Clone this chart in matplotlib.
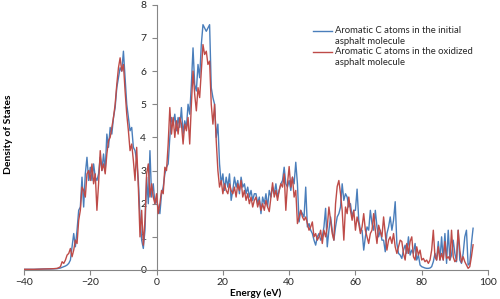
import numpy as np
import matplotlib
matplotlib.use("Agg")
from matplotlib import pyplot as plt

plt.rcParams['font.family'] = ['Lato', 'DejaVu Sans']

# energy grid: a few points for the flat tail, then 0.5 eV steps
energy = np.concatenate([[-40, -37, -34, -32, -31], np.arange(-30, 96, 0.5)])

tail_initial = [0.02, 0.02, 0.03, 0.03, 0.035]
tail_oxidized = [0.02, 0.02, 0.03, 0.035, 0.04]

# aromatic C atoms, initial asphalt molecule
dos_initial = tail_initial + [
    0.04, 0.05, 0.06, 0.08, 0.10, 0.12, 0.15, 0.20, 0.30, 0.70,   # -30
    1.10, 0.70, 1.20, 1.80, 1.90, 2.80, 1.90, 2.90, 3.40, 2.70,   # -25
    3.10, 2.70, 3.20, 2.80, 2.70, 2.90, 3.40, 3.00, 3.50, 3.00,   # -20
    4.10, 3.70, 4.30, 4.10, 4.60, 4.90, 5.50, 5.80, 6.10, 6.00,   # -15
    6.60, 5.80, 5.00, 4.60, 4.20, 4.30, 3.70, 3.60, 3.30, 2.70,   # -10
    1.60, 0.90, 0.65, 1.20, 2.80, 2.00, 3.60, 2.20, 2.60, 2.00,   # -5
    2.10, 1.90, 1.70, 2.30, 2.50, 2.90, 3.10, 3.20, 4.00, 4.60,   # 0
    4.40, 4.70, 4.20, 4.60, 4.30, 4.90, 4.10, 4.50, 4.30, 5.00,   # 5
    4.70, 5.60, 6.70, 5.60, 5.40, 6.20, 5.80, 6.80, 7.40, 7.30,   # 10
    7.20, 7.30, 7.40, 5.50, 5.20, 5.00, 4.00, 4.40, 3.20, 2.60,   # 15
    2.90, 2.40, 2.80, 2.50, 2.90, 2.10, 2.40, 2.80, 2.50, 2.70,   # 20
    2.30, 2.80, 2.50, 2.60, 2.30, 2.50, 2.20, 2.40, 2.10, 2.30,   # 25
    2.30, 2.00, 2.20, 1.70, 2.20, 2.00, 2.30, 1.90, 2.40, 2.20,   # 30
    2.50, 2.30, 2.60, 2.20, 2.40, 2.60, 2.70, 3.10, 2.60, 2.50,   # 35
    2.70, 2.40, 2.80, 2.60, 3.25, 2.60, 1.45, 1.80, 1.70, 1.60,   # 40
    2.50, 1.30, 1.40, 1.20, 1.10, 0.90, 0.75, 1.00, 1.10, 0.90,   # 45
    1.00, 1.30, 1.86, 0.70, 1.20, 1.60, 1.20, 0.90, 1.30, 1.60,   # 50
    1.70, 1.90, 2.60, 2.10, 2.30, 2.20, 1.90, 2.00, 1.60, 1.80,   # 55
    1.80, 2.44, 1.50, 1.20, 1.20, 0.60, 1.00, 1.30, 1.20, 1.80,   # 60
    1.40, 1.20, 1.80, 1.30, 1.00, 1.20, 0.90, 0.90, 0.55, 1.10,   # 65
    1.30, 1.60, 1.20, 1.50, 2.06, 0.80, 0.50, 0.45, 0.35, 0.60,   # 70
    0.75, 0.50, 1.00, 0.45, 0.60, 0.50, 0.80, 0.30, 0.45, 0.15,   # 75
    0.10, 0.08, 0.06, 0.05, 0.05, 0.06, 0.10, 0.25, 0.50, 0.30,   # 80
    0.86, 0.30, 1.00, 0.30, 1.10, 0.20, 1.20, 0.30, 0.45, 0.90,   # 85
    0.50, 0.25, 1.20, 0.30, 0.20, 0.50, 1.00, 1.20, 0.15, 0.20,   # 90
    0.80, 1.26]

# aromatic C atoms, oxidized asphalt molecule
dos_oxidized = tail_oxidized + [
    0.05, 0.07, 0.10, 0.25, 0.20, 0.30, 0.45, 0.50, 0.65, 0.40,   # -30
    0.60, 0.90, 0.80, 1.50, 1.80, 2.50, 2.40, 2.20, 2.90, 3.00,   # -25
    2.70, 3.20, 2.60, 2.90, 1.80, 2.60, 3.60, 3.00, 3.20, 2.90,   # -20
    3.50, 3.90, 4.00, 4.30, 4.60, 5.00, 5.60, 6.10, 6.40, 6.00,   # -15
    6.20, 5.40, 4.70, 4.20, 3.60, 3.80, 3.30, 2.70, 3.70, 2.50,   # -10
    1.00, 1.80, 0.75, 1.50, 2.90, 3.20, 2.20, 2.60, 2.20, 2.00,   # -5
    2.30, 1.70, 2.00, 2.40, 2.30, 3.10, 3.00, 3.80, 4.90, 4.10,   # 0
    4.60, 4.00, 4.50, 4.10, 4.60, 4.40, 3.80, 4.40, 4.20, 4.60,   # 5
    3.80, 5.00, 6.00, 5.30, 4.80, 5.50, 5.20, 6.00, 6.80, 6.50,   # 10
    6.60, 6.20, 6.30, 5.00, 4.40, 5.00, 3.90, 3.00, 2.50, 2.70,   # 15
    2.30, 2.60, 2.40, 2.30, 2.60, 2.40, 2.30, 2.50, 2.20, 2.60,   # 20
    2.40, 2.70, 2.20, 2.40, 2.10, 2.30, 2.00, 2.20, 1.90, 2.10,   # 25
    2.20, 1.90, 2.10, 1.80, 2.00, 1.80, 2.10, 1.90, 1.76, 2.20,   # 30
    2.63, 2.20, 2.40, 2.10, 2.40, 2.60, 2.50, 2.90, 1.80, 2.60,   # 35
    3.12, 2.50, 2.80, 2.20, 2.40, 1.40, 1.60, 1.80, 1.60, 1.50,   # 40
    1.60, 1.40, 1.20, 1.30, 1.45, 1.00, 1.10, 0.90, 1.00, 1.20,   # 45
    0.80, 1.20, 1.00, 1.30, 1.90, 1.50, 1.10, 0.90, 2.00, 2.52,   # 50
    2.70, 2.30, 1.80, 0.90, 1.90, 1.70, 2.20, 1.80, 1.50, 1.80,   # 55
    1.20, 1.60, 1.40, 1.10, 1.30, 1.70, 1.20, 1.00, 0.80, 1.10,   # 60
    1.20, 1.70, 1.20, 0.80, 1.35, 1.16, 1.00, 1.60, 1.10, 0.60,   # 65
    0.90, 1.00, 0.80, 1.10, 0.70, 0.50, 0.70, 0.90, 0.86, 0.50,   # 70
    0.30, 0.80, 0.50, 0.86, 1.00, 0.40, 0.30, 0.70, 0.45, 0.60,   # 75
    0.30, 0.35, 0.25, 0.30, 0.20, 0.30, 0.60, 1.20, 0.40, 0.30,   # 80
    0.70, 0.30, 0.50, 0.30, 0.86, 0.35, 0.40, 0.30, 1.20, 0.40,   # 85
    0.25, 0.30, 1.20, 0.60, 0.23, 0.40, 0.25, 0.15, 0.05, 0.10,   # 90
    0.40, 0.76]

labels = ["Aromatic C atoms in the initial\nasphalt molecule",
          "Aromatic C atoms in the oxidized\nasphalt molecule"]
blue = "#4A7EBB"
red = "#BE4B48"
grey = "#868686"

fig = plt.figure(figsize=(5, 2.99), dpi=100)
ax = fig.add_axes([0.048, 0.097, 0.928, 0.887])

ax.plot(energy, dos_initial, color=blue, lw=1.0, zorder=2)
ax.plot(energy, dos_oxidized, color=red, lw=1.0, zorder=3)

ax.set_xlim(-40, 100)
ax.set_ylim(0, 8)
ax.set_xticks(range(-40, 101, 20))
ax.set_yticks(range(0, 9))

ax.spines['top'].set_visible(False)
ax.spines['right'].set_visible(False)
ax.spines['left'].set_position(('data', 0))
for s in ('left', 'bottom'):
    ax.spines[s].set_color(grey)
    ax.spines[s].set_linewidth(0.8)
ax.tick_params(axis='both', colors=grey, labelcolor='#262626', labelsize=7.5,
               length=3.5, width=0.8)
ax.tick_params(axis='y', pad=4)
ax.tick_params(axis='x', pad=2)

ax.set_xlabel("Energy (eV)", fontsize=7.2, fontweight='bold', labelpad=1)
fig.text(0.017, 0.552, "Density of States", rotation=90, fontsize=7.5,
         fontweight='bold', ha='center', va='center')

# legend drawn by hand so the line sits on the first text line
for i, (lab, col) in enumerate(zip(labels, [blue, red])):
    yy = 0.903 - i * 0.08
    ax.plot([0.623, 0.664], [yy, yy], color=col, lw=1.0,
            transform=ax.transAxes, clip_on=False)
    ax.text(0.670, yy + 0.018, lab, transform=ax.transAxes, fontsize=6.8,
            va='top', ha='left', color='#262626', linespacing=1.3)

fig.savefig("out.png", dpi=100)
